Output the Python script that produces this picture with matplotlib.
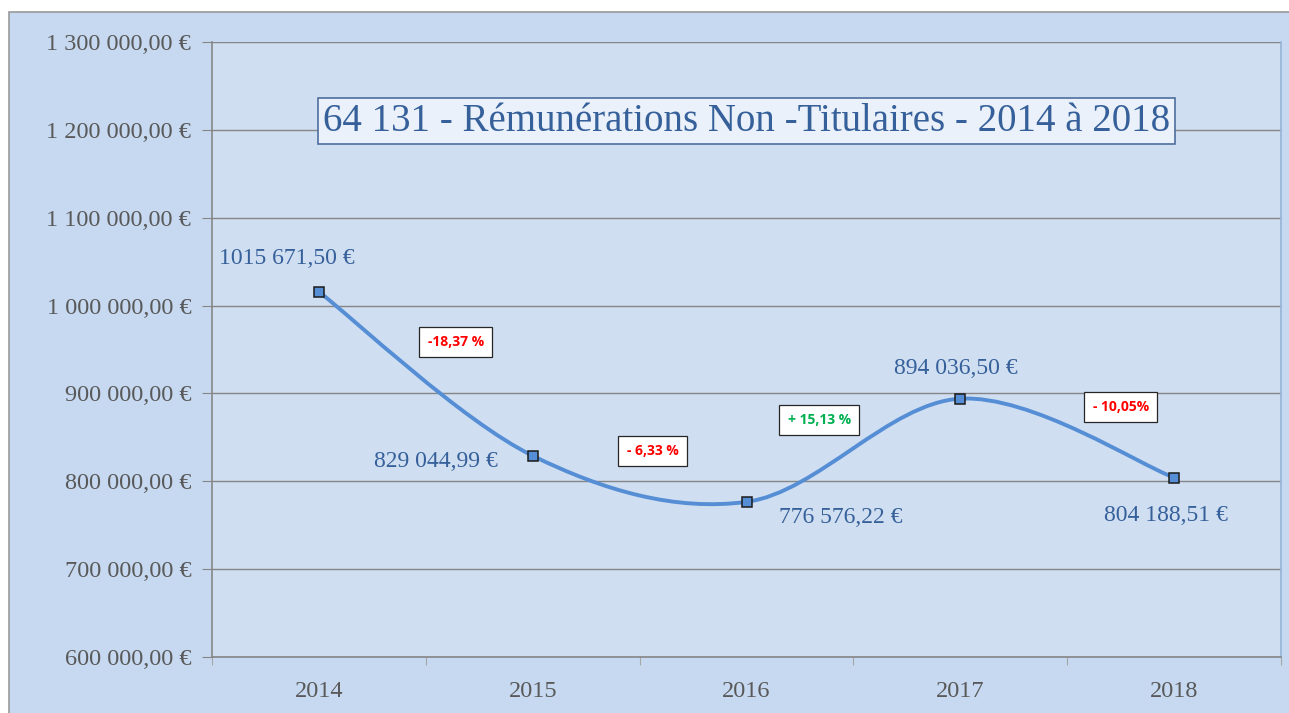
import matplotlib.pyplot as plt
from matplotlib.path import Path
from matplotlib.patches import PathPatch, Rectangle
import numpy as np

# data
years = ['2014', '2015', '2016', '2017', '2018']
amounts = [1015671.50, 829044.99, 776576.22, 894036.50, 804188.51]
amount_labels = ['1015 671,50 €', '829 044,99 €', '776 576,22 €', '894 036,50 €', '804 188,51 €']
pct_labels = ['-18,37 %', '- 6,33 %', '+ 15,13 %', '- 10,05%']
pct_colors = ['#ff0000', '#ff0000', '#00b050', '#ff0000']
y_ticks = [600000, 700000, 800000, 900000, 1000000, 1100000, 1200000, 1300000]
title = '64 131 - Rémunérations Non -Titulaires - 2014 à 2018'

serif = ['Liberation Serif', 'DejaVu Serif']
gray_txt = '#595959'
blue_txt = '#36609a'
line_col = '#558ed5'

fig = plt.figure(figsize=(12.89, 7.13), dpi=100)
fig.patch.set_facecolor('white')
# outer chart area
fig.add_artist(Rectangle((9 / 1289, -0.01), 1.0, 1 - 12 / 713 + 0.01,
                         transform=fig.transFigure, facecolor='#c6d9f0',
                         edgecolor='#999999', linewidth=1.2, zorder=-10))

ax = fig.add_axes([212 / 1289, 1 - 657 / 713, (1281 - 212) / 1289, (657 - 42) / 713])
ax.set_facecolor('#cfdef1')

x = np.arange(len(years))
ax.set_xlim(-0.5, len(years) - 0.5)
ax.set_ylim(600000, 1300000)

# smoothed line (Excel-like Bezier, tension 1/6)
pts = list(zip(x, amounts))
verts = [pts[0]]
codes = [Path.MOVETO]
for i in range(len(pts) - 1):
    p0 = pts[i - 1] if i > 0 else pts[i]
    p1 = pts[i]
    p2 = pts[i + 1]
    p3 = pts[i + 2] if i + 2 < len(pts) else pts[i + 1]
    c1 = (p1[0] + (p2[0] - p0[0]) / 6, p1[1] + (p2[1] - p0[1]) / 6)
    c2 = (p2[0] - (p3[0] - p1[0]) / 6, p2[1] - (p3[1] - p1[1]) / 6)
    verts += [c1, c2, p2]
    codes += [Path.CURVE4] * 3
ax.add_patch(PathPatch(Path(verts, codes), facecolor='none', edgecolor=line_col,
                       linewidth=2.8, zorder=3, capstyle='round'))
ax.plot(x, amounts, linestyle='none', marker='s', markersize=7.5,
        markerfacecolor=line_col, markeredgecolor='#1a1a1a', markeredgewidth=1.1, zorder=4)

# value labels (offsets in points)
offsets = [(-23, 24), (-70, -4), (68, -11), (-3, 22), (-6, -27)]
for xi, yi, lab, off in zip(x, amounts, amount_labels, offsets):
    ax.annotate(lab, (xi, yi), xytext=off, textcoords='offset points',
                ha='center', va='center', fontsize=17, color=blue_txt,
                family=serif, zorder=5)

# percentage boxes between points
pct_pos = [(0.64, 958500), (1.56, 834500), (2.34, 869700), (3.75, 884500)]
for (px, py), lab, col in zip(pct_pos, pct_labels, pct_colors):
    ax.text(px, py, lab, ha='center', va='center', fontsize=10, fontweight='bold',
            color=col, family=['Open Sans', 'DejaVu Sans'], zorder=6,
            bbox=dict(boxstyle='square,pad=0.6', facecolor='white',
                      edgecolor='#262626', linewidth=0.9))

# title box
ax.text(0.5, 0.8715, title, transform=ax.transAxes, ha='center', va='center',
        fontsize=28, color=blue_txt, family=serif, zorder=6,
        bbox=dict(boxstyle='square,pad=0.12', facecolor='#eaf1fa',
                  edgecolor='#4f6f9f', linewidth=1.2))

# axes styling
ax.set_yticks(y_ticks)
ax.set_yticklabels([f'{v:,.2f} €'.replace(',', ' ').replace('.', ',') for v in y_ticks],
                   family=serif, fontsize=17.5, color=gray_txt)
ax.yaxis.grid(True, color='#868686', linewidth=1)
ax.set_axisbelow(True)
ax.tick_params(axis='y', length=7, color='#868686', pad=8)

ax.set_xticks(np.arange(-0.5, len(years), 1.0))
ax.set_xticklabels([])
ax.set_xticks(x, minor=True)
ax.set_xticklabels(years, minor=True, family=serif, fontsize=17.5, color=gray_txt)
ax.tick_params(axis='x', which='major', length=6, color='#a6a6a6')
ax.tick_params(axis='x', which='minor', length=0, pad=17)

for s in ['left', 'bottom']:
    ax.spines[s].set_color('#868686')
    ax.spines[s].set_linewidth(1.2)
ax.spines['top'].set_visible(False)
ax.spines['right'].set_color('#95b3d7')
ax.spines['right'].set_linewidth(1.2)

fig.savefig('out.png', dpi=100)
